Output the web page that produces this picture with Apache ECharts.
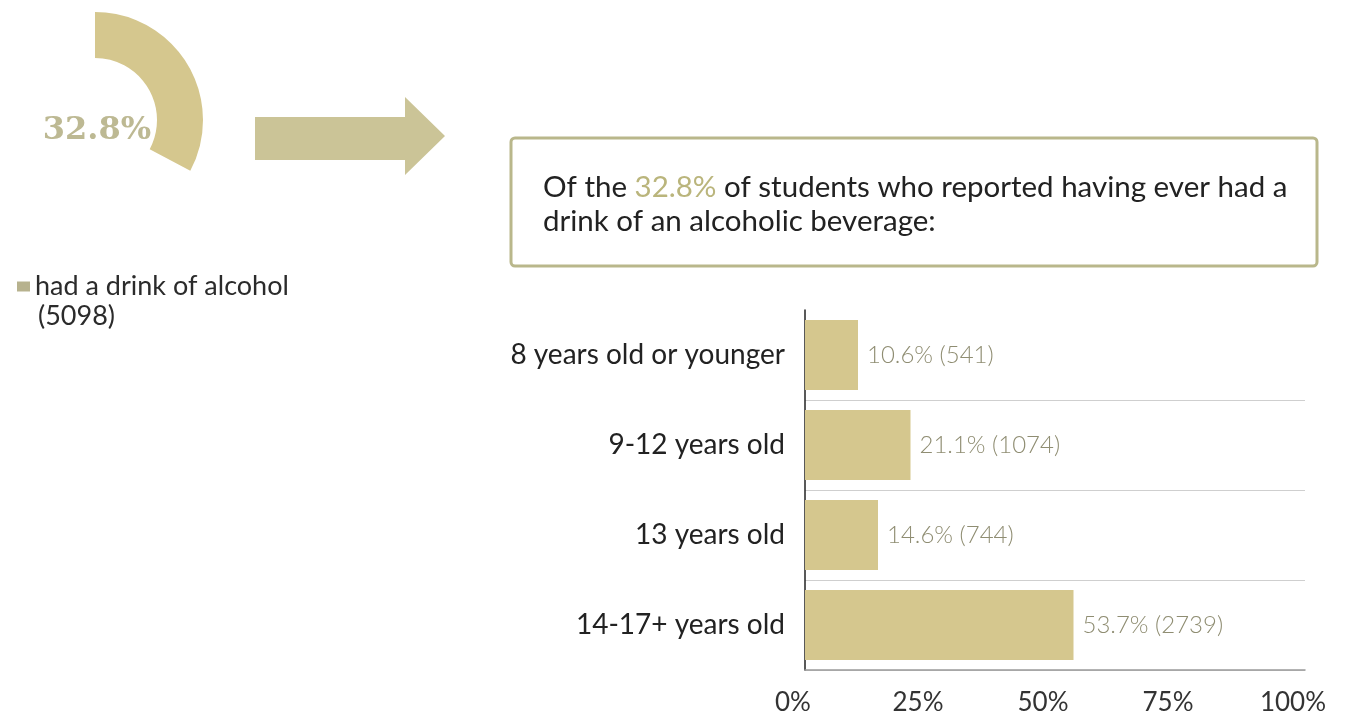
<!DOCTYPE html>
<html lang="en">
	<head>
		<meta charset="utf-8">
	</head>
	<body style="margin: 0; background: #fff">
		<div id="container" style="width: 1348px; height: 723px"></div>
		<script type="text/javascript" src="https://cdn.jsdelivr.net/npm/echarts@6/dist/echarts.min.js"></script>
		<script type="text/javascript">
			// donut data
			const donutNames = ['had a drink of alcohol', 'rest'];
			const donutValues = [32.8, 67.2];
			const drinkCount = 5098;

			// bar data
			const ageGroups = ['8 years old or younger', '9-12 years old', '13 years old', '14-17+ years old'];
			const agePercents = [10.6, 21.1, 14.6, 53.7];
			const ageCounts = [541, 1074, 744, 2739];
			const xTicks = [0, 25, 50, 75, 100];

			const tan = '#d5c78e';
			const sans = 'Lato';

			var chartDom = document.getElementById('container');
			var myChart = echarts.init(chartDom);
			var option;

			option = {
				animation: false,
				backgroundColor: '#fff',
				legend: {
					left: 12,
					top: 268,
					icon: 'rect',
					itemWidth: 13,
					itemHeight: 10,
					itemGap: 5,
					selectedMode: false,
					data: [donutNames[0]],
					textStyle: {
						fontFamily: sans,
						fontSize: 27,
						color: '#2b2b2b'
					},
					itemStyle: { color: '#b7b28e' }
				},
				grid: {
					left: 805,
					right: 43,
					top: 310,
					bottom: 53
				},
				xAxis: {
					type: 'value',
					min: xTicks[0],
					max: xTicks[xTicks.length - 1],
					interval: xTicks[1] - xTicks[0],
					axisLine: { show: true, lineStyle: { color: '#9a9a9a', width: 1.5 } },
					axisTick: { show: false },
					splitLine: { show: false },
					axisLabel: {
						margin: 20,
						fontFamily: sans,
						fontSize: 26,
						color: '#333',
						padding: [0, 24, 0, 0],
						formatter: '{value}%'
					}
				},
				yAxis: {
					type: 'category',
					inverse: true,
					data: ageGroups,
					axisLine: { show: true, lineStyle: { color: '#222', width: 1.5 } },
					axisTick: { show: false },
					splitLine: {
						show: true,
						interval: (i) => i > 0,
						lineStyle: { color: '#cfcfcf', width: 1 }
					},
					axisLabel: {
						margin: 20,
						fontFamily: sans,
						fontSize: 28,
						color: '#222'
					}
				},
				series: [
					{
						type: 'pie',
						name: 'alcohol',
						center: [95, 120],
						radius: [62, 108],
						startAngle: 90,
						clockwise: true,
						silent: true,
						label: { show: false },
						labelLine: { show: false },
						data: donutNames.map((n, i) => ({
							name: n,
							value: donutValues[i],
							itemStyle: { color: i === 0 ? tan : 'rgba(0,0,0,0)' }
						}))
					},
					{
						type: 'bar',
						name: 'age',
						barCategoryGap: '22%',
						itemStyle: { color: tan },
						label: {
							show: true,
							position: 'right',
							distance: 9,
							fontFamily: sans,
							fontSize: 24,
							fontWeight: 300,
							color: '#8f8d72',
							formatter: p => agePercents[p.dataIndex] + '% (' + ageCounts[p.dataIndex] + ')'
						},
						data: agePercents
					}
				],
				graphic: [
					{
						// donut centre value
						type: 'text',
						silent: true,
						x: 97,
						y: 131,
						style: {
							text: donutValues[0] + '%',
							font: 'bold 32px "DejaVu Serif"',
							fill: '#bdb993',
							align: 'center',
							verticalAlign: 'middle'
						}
					},
					{
						type: 'text',
						silent: true,
						left: 38,
						top: 303,
						style: {
							text: '(' + drinkCount + ')',
							font: '27px Lato',
							fill: '#2b2b2b'
						}
					},
					{
						type: 'polygon',
						silent: true,
						shape: {
							points: [[255, 117], [405, 117], [405, 97], [445, 136], [405, 175], [405, 160], [255, 160]]
						},
						style: { fill: '#cbc497' }
					},
					{
						type: 'rect',
						silent: true,
						shape: { x: 511, y: 138, width: 806, height: 128, r: 4 },
						style: { fill: '#fff', stroke: '#b9b78b', lineWidth: 3 }
					},
					{
						type: 'text',
						silent: true,
						left: 543,
						top: 172,
						style: {
							text: '{n|Of the }{h|' + donutValues[0] + '%}{n| of students who reported having ever had a}\n{n|drink of an alcoholic beverage:}',
							rich: {
								n: { fontFamily: sans, fontSize: 29.5, fill: '#222', lineHeight: 34 },
								h: { fontFamily: sans, fontSize: 29.5, fill: '#bab57c', lineHeight: 34 }
							}
						}
					}
				]
			};

			option && myChart.setOption(option);
		</script>
	</body>
</html>
